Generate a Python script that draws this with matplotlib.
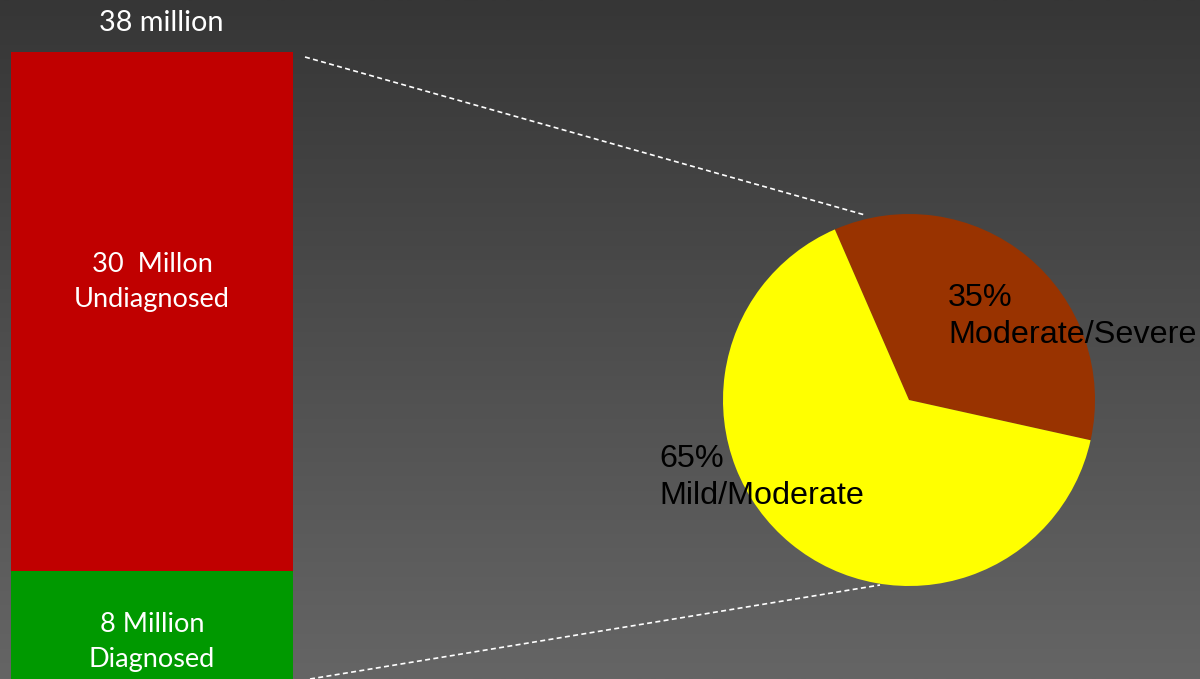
import numpy as np
import matplotlib
matplotlib.use("Agg")
import matplotlib.pyplot as plt
from matplotlib.lines import Line2D

# stacked bar: population with the condition (millions)
bar_labels = ["8 Million\nDiagnosed", "30  Millon\nUndiagnosed"]
bar_values = [8, 30]
bar_colors = ["#009900", "#c00000"]
total_label = "38 million"

# breakdown of the undiagnosed group
pie_labels = ["Moderate/Severe", "Mild/Moderate"]
pie_pcts = [35, 65]
pie_colors = ["#993300", "#ffff00"]

W, H = 1200, 679
fig = plt.figure(figsize=(W / 100, H / 100), dpi=100)

# dark grey vertical gradient background
bg = fig.add_axes([0, 0, 1, 1])
grad = np.linspace(0, 1, 256).reshape(-1, 1)
top, bottom = np.array([0x36, 0x36, 0x36]) / 255, np.array([0x65, 0x65, 0x65]) / 255
img = top + (bottom - top) * grad[:, :, None]
bg.imshow(img, aspect="auto", extent=[0, 1, 0, 1], origin="upper")
bg.axis("off")

# bar axes: value 0 sits just below the bottom edge of the figure
y_top_px, y_zero_px = 52, 709.4
axb = fig.add_axes([11 / W, (H - y_zero_px) / H, (293 - 11) / W, (y_zero_px - y_top_px) / H])
axb.set_xlim(-0.5, 0.5)
axb.set_ylim(0, sum(bar_values))
axb.axis("off")
bottom_val = 0
for lab, val, col in zip(bar_labels, bar_values, bar_colors):
    axb.bar(0, val, width=1.0, bottom=bottom_val, color=col, clip_on=False)
    bottom_val += val

calibri_like = ["Lato", "DejaVu Sans"]
axb.text(0, 24.7, bar_labels[1], ha="center", va="center", color="white",
         fontsize=19.5, family=calibri_like, linespacing=1.5)
axb.text(0, 3.9, bar_labels[0], ha="center", va="center", color="white",
         fontsize=19.5, family=calibri_like, linespacing=1.5)
axb.text(0.032, sum(bar_values) + 1.65, total_label, ha="center", va="center", color="white",
         fontsize=20.8, family=calibri_like, clip_on=False)

# pie of the undiagnosed group
cx, cy, r = 909, 400, 186
axp = fig.add_axes([(cx - r) / W, (H - cy - r) / H, 2 * r / W, 2 * r / H])
axp.pie(pie_pcts, colors=pie_colors, startangle=113.5, counterclock=False, radius=1.0)
axp.set_xlim(-1, 1)
axp.set_ylim(-1, 1)
axp.axis("off")

arial_like = ["Liberation Sans", "DejaVu Sans"]
axp.text(0.21, 0.628, f"{pie_pcts[0]}%\n{pie_labels[0]}", ha="left", va="top",
         fontsize=23.3, family=arial_like, color="black", clip_on=False, linespacing=1.3)
axp.text(-1.34, -0.237, f"{pie_pcts[1]}%\n{pie_labels[1]}", ha="left", va="top",
         fontsize=23.3, family=arial_like, color="black", clip_on=False, linespacing=1.3)

# dashed connectors from the bar to the pie
for (x0, y0), (x1, y1) in [((305, 57), (865, 215)), ((310, 679), (880, 585))]:
    fig.add_artist(Line2D([x0 / W, x1 / W], [1 - y0 / H, 1 - y1 / H],
                          transform=fig.transFigure, color="white", lw=1.2,
                          linestyle=(0, (3, 2))))

fig.savefig("out.png", dpi=100)
